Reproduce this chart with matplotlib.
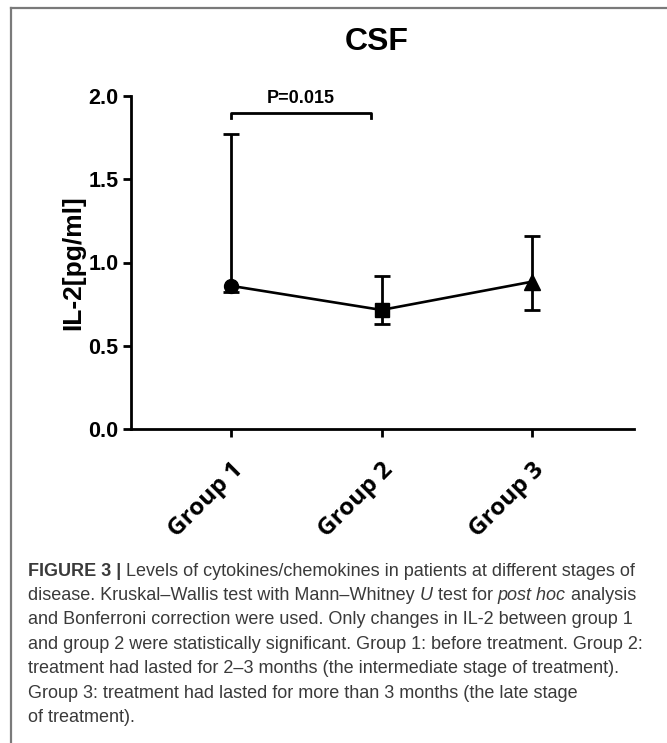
import matplotlib
matplotlib.use("Agg")
import matplotlib.pyplot as plt
from matplotlib.lines import Line2D
import numpy as np

# ---- data ----
groups = ["Group 1", "Group 2", "Group 3"]
medians = [0.86, 0.715, 0.885]
upper = [1.77, 0.92, 1.16]
lower = [0.82, 0.63, 0.715]
markers = ["o", "s", "^"]
y_ticks = [0.0, 0.5, 1.0, 1.5, 2.0]
title = "CSF"
ylabel = "IL-2[pg/ml]"
p_text = "P=0.015"
p_pair = [1, 1.93]
p_height = 1.90

W, H = 667, 743
fig = plt.figure(figsize=(W / 100, H / 100), dpi=100)

def fx(px):
    return px / W

def fy(py):
    return 1 - py / H

# frame around figure (cropped at right/bottom)
fig.add_artist(Line2D([fx(11), 1.0], [fy(8), fy(8)], color="#7a7a7a", lw=1.6))
fig.add_artist(Line2D([fx(11), fx(11)], [fy(8), 0.0], color="#7a7a7a", lw=1.6))

ax = fig.add_axes([fx(131), fy(429), fx(634) - fx(131), fy(96) - fy(429)])
x = np.arange(1, len(groups) + 1)
ax.plot(x, medians, color="black", lw=1.9, zorder=3)
for xi, m, u, l, mk in zip(x, medians, upper, lower, markers):
    ax.errorbar([xi], [m], yerr=[[m - l], [u - m]], fmt=mk, color="black",
                ms=10 if mk != "^" else 11, capsize=5.5, capthick=2.0, elinewidth=2.0, zorder=4)

ax.set_xlim(1 - 100 / 151, 3 + 102 / 151)
ax.set_ylim(0, 2.0)
ax.set_yticks(y_ticks)
ax.set_yticklabels([f"{v:.1f}" for v in y_ticks], fontsize=15.5, fontweight="bold",
                   family=["Liberation Sans", "DejaVu Sans"])
ax.set_xticks(x)
ax.set_xticklabels(groups, rotation=45, ha="right", rotation_mode="anchor",
                   fontsize=17.5, fontweight="bold", family=["Open Sans", "DejaVu Sans"])
for s in ["top", "right"]:
    ax.spines[s].set_visible(False)
for s in ["left", "bottom"]:
    ax.spines[s].set_linewidth(2.0)
ax.tick_params(axis="both", direction="out", length=6, width=2.0)
ax.tick_params(axis="x", pad=15)
ax.tick_params(axis="y", pad=3)
ax.set_ylabel(ylabel, fontsize=19, fontweight="bold", family=["Liberation Sans", "DejaVu Sans"], labelpad=2)

# significance bracket
d = 0.03
ax.plot([p_pair[0], p_pair[0], p_pair[1], p_pair[1]],
        [p_height - d, p_height, p_height, p_height - d], color="black", lw=2.0, clip_on=False)
ax.text(np.mean(p_pair), p_height + 0.035, p_text, ha="center", va="bottom", fontsize=13,
        fontweight="bold", family=["Liberation Sans", "DejaVu Sans"])

fig.text(fx(377), fy(42), title, ha="center", va="center", fontsize=23, fontweight="bold",
         family=["Liberation Sans", "DejaVu Sans"])

# caption
cap_lines = [
    [("FIGURE 3 | ", "bold"), ("Levels of cytokines/chemokines in patients at different stages of", "normal")],
    [("disease. Kruskal\u2013Wallis test with Mann\u2013Whitney ", "normal"), ("U", "italic"),
     (" test for ", "normal"), ("post hoc", "italic"), (" analysis", "normal")],
    [("and Bonferroni correction were used. Only changes in IL-2 between group 1", "normal")],
    [("and group 2 were statistically significant. Group 1: before treatment. Group 2:", "normal")],
    [("treatment had lasted for 2\u20133 months (the intermediate stage of treatment).", "normal")],
    [("Group 3: treatment had lasted for more than 3 months (the late stage", "normal")],
    [("of treatment).", "normal")],
]
cap_fam = ["Liberation Sans", "DejaVu Sans"]
cap_size = 13.0
cap_color = "#3a3a3a"
fig.canvas.draw()
renderer = fig.canvas.get_renderer()
y0 = 571
dy = 24.4
for i, runs in enumerate(cap_lines):
    xp = 28
    for txt, style in runs:
        kw = dict(fontsize=cap_size, color=cap_color, family=cap_fam, ha="left", va="center")
        if style == "bold":
            kw["fontweight"] = "bold"
        elif style == "italic":
            kw["fontstyle"] = "italic"
        t = fig.text(fx(xp), fy(y0 + i * dy), txt, **kw)
        bb = t.get_window_extent(renderer=renderer)
        xp += bb.width

fig.savefig("out.png", dpi=100)
